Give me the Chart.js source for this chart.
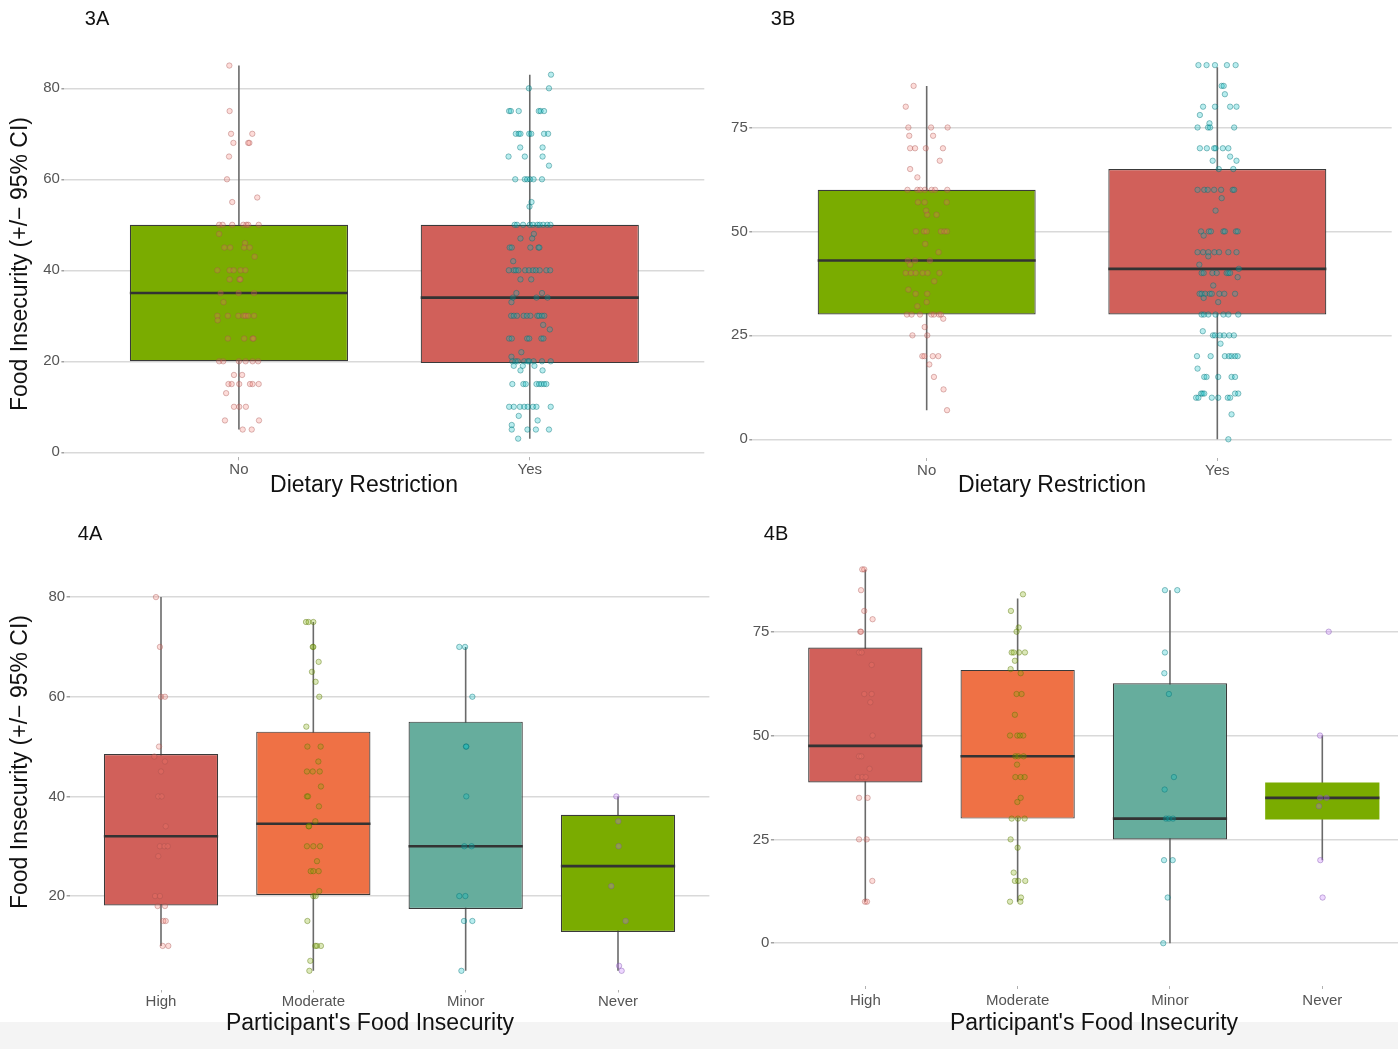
<!DOCTYPE html>
<html>
<head>
<meta charset="utf-8">
<title>Food insecurity box plots</title>
<script src="https://cdn.jsdelivr.net/npm/chart.js@4.4.1/dist/chart.umd.min.js"></script>
<style>
  html, body { margin: 0; padding: 0; background: #fff; overflow: hidden; }
  #fig { position: relative; width: 1398px; height: 1049px; overflow: hidden;
         font-family: "Liberation Sans", Arial, Helvetica, sans-serif; }
  #band { position: absolute; left: 0; top: 1022px; width: 1398px; height: 27px; background: #f4f4f4; }
  canvas { position: absolute; }
  .lbl { position: absolute; white-space: nowrap; color: #111; line-height: 1; }
  .panel { font-size: 20px; transform: translate(-50%, -50%); }
  .xt { font-size: 23px; transform: translate(-50%, -50%); }
  .yt { font-size: 23px; transform: translate(-50%, -50%) rotate(-90deg); }
</style>
</head>
<body>
<div id="fig">
  <div id="band"></div>
  <canvas id="c3A" width="708" height="500" style="left:0px;top:0px"></canvas>
  <canvas id="c3B" width="698" height="500" style="left:700px;top:0px"></canvas>
  <canvas id="c4A" width="714" height="512" style="left:0px;top:510px"></canvas>
  <canvas id="c4B" width="706" height="512" style="left:712px;top:510px"></canvas>

  <div class="lbl panel" style="left:97px;top:18px">3A</div>
  <div class="lbl panel" style="left:783px;top:18px">3B</div>
  <div class="lbl panel" style="left:90px;top:533px">4A</div>
  <div class="lbl panel" style="left:776px;top:533px">4B</div>

  <div class="lbl yt" style="left:19px;top:264px">Food Insecurity (+/− 95% CI)</div>
  <div class="lbl yt" style="left:19px;top:762px">Food Insecurity (+/− 95% CI)</div>

  <div class="lbl xt" style="left:364px;top:484px">Dietary Restriction</div>
  <div class="lbl xt" style="left:1052px;top:484px">Dietary Restriction</div>
  <div class="lbl xt" style="left:370px;top:1022px">Participant's Food Insecurity</div>
  <div class="lbl xt" style="left:1094px;top:1022px">Participant's Food Insecurity</div>
</div>

<script>
// ---------- categories and tick labels ----------
const CATS_DIET = ['No', 'Yes'];
const CATS_FI = ['High', 'Moderate', 'Minor', 'Never'];

const TICKS_3A = [0, 20, 40, 60, 80];
const TICKS_3B = [0, 25, 50, 75];
const TICKS_4A = [20, 40, 60, 80];
const TICKS_4B = [0, 25, 50, 75];

// ---------- box statistics (whisker low, Q1, median, Q3, whisker high) ----------
const LOW_3A = [5, 3];
const Q1_3A = [20, 19.6];
const MED_3A = [35, 34];
const Q3_3A = [50, 50];
const HIGH_3A = [85, 83];

const LOW_3B = [7, 0];
const Q1_3B = [30, 30];
const MED_3B = [43, 41];
const Q3_3B = [60, 65];
const HIGH_3B = [85, 89.5];

const LOW_4A = [10, 5, 5, 5];
const Q1_4A = [18.1, 20.2, 17.4, 12.8];
const MED_4A = [32, 34.5, 30, 26];
const Q3_4A = [48.5, 53, 55, 36.3];
const HIGH_4A = [80, 75, 70, 40];

const LOW_4B = [10, 10, 0, 20];
const Q1_4B = [38.7, 30, 25, 29.8];
const MED_4B = [47.5, 45, 30, 35];
const Q3_4B = [71.2, 65.8, 62.6, 38.7];
const HIGH_4B = [90, 83, 85, 50];

// ---------- individual responses: [value, horizontal jitter in category units] ----------
const PTS_3A_NO = [
  [85,-.033],[75,-.032],[70,-.027],[70,.046],[68,-.019],[68,.032],[68,.036],[65,-.034],[60,-.041],[56,.063],[55,-.023],
  [50,-.068],[50,-.056],[50,-.023],[50,.015],[50,.026],[50,.032],[50,.068],[48,-.068],[46,.021],
  [45,-.05],[45,-.03],[45,.018],[45,.037],[43,.054],
  [40,-.074],[40,-.032],[40,-.018],[40,.006],[40,.022],[38,-.032],[38,.002],[38,.005],
  [35,-.063],[35,-.001],[35,.052],[33,-.053],
  [30,-.074],[30,-.038],[30,-.002],[30,.016],[30,.023],[30,.032],[30,.052],[29,-.073],
  [25,-.038],[25,.018],[25,.047],[25,.05],
  [20,-.068],[20,-.054],[20,0],[20,.023],[20,.047],[20,.066],
  [17,-.017],[17,.011],[15,-.036],[15,-.025],[15,.001],[15,.038],[15,.047],[15,.068],[13,-.044],
  [10,-.017],[10,.001],[10,.024],[7,-.048],[7,.069],[5,.013],[5,.044]
];
const PTS_3A_YES = [
  [83,.073],[80,-.003],[80,.066],
  [75,-.071],[75,-.065],[75,-.038],[75,.031],[75,.037],[75,.049],
  [70,-.048],[70,-.038],[70,-.032],[70,-.002],[70,.005],[70,.049],[70,.063],
  [67,-.033],[67,.044],[65,-.073],[65,-.017],[65,.044],[63,.066],
  [60,-.05],[60,-.017],[60,-.009],[60,.001],[60,.013],[60,.042],[55,.006],[54,-.001],
  [50,-.052],[50,-.044],[50,-.023],[50,0],[50,.011],[50,.026],[50,.034],[50,.046],[50,.06],[50,.071],
  [48,.014],[47,-.032],[47,.008],[45,-.069],[45,-.062],[45,.002],[45,.03],[45,.033],[42,-.057],
  [40,-.072],[40,-.055],[40,-.048],[40,-.039],[40,-.016],[40,-.003],[40,.011],[40,.021],[40,.034],[40,.057],[40,.07],
  [38,-.032],[38,.005],[35,-.046],[35,.042],[34,-.058],[34,.023],[34,.061],[33,-.063],
  [30,-.064],[30,-.055],[30,-.044],[30,-.021],[30,-.01],[30,.002],[30,.026],[30,.032],[30,.042],[30,.05],
  [28,.046],[27,.069],[25,-.071],[25,-.062],[25,-.009],[25,-.002],[25,.04],[25,.047],[22,-.029],[21,-.063],
  [20,-.06],[20,-.049],[20,-.041],[20,-.019],[20,-.007],[20,-.002],[20,.013],[20,.042],[20,.072],
  [19,-.055],[19,-.024],[19,.016],[18,-.032],[18,.044],
  [15,-.06],[15,-.022],[15,-.014],[15,.023],[15,.032],[15,.04],[15,.049],[15,.057],
  [10,-.071],[10,-.055],[10,-.034],[10,-.019],[10,-.007],[10,.011],[10,.023],[10,.072],
  [8,-.038],[7,.027],[6,-.062],[5,-.062],[5,-.008],[5,.021],[5,.066],[3,-.04]
];
const PTS_3B_NO = [
  [85,-.045],[80,-.072],[75,-.063],[75,.015],[75,.072],[73,-.06],[73,.022],
  [70,-.057],[70,-.04],[70,-.003],[70,.056],[67,.045],[65,-.057],[63,-.032],
  [60,-.066],[60,-.032],[60,-.022],[60,-.006],[60,.017],[60,.029],[60,.071],
  [57,-.03],[57,-.007],[57,.069],[55,-.002],[54,.002],[54,.034],
  [50,-.037],[50,-.009],[50,0],[50,.049],[50,.061],[50,.07],[47,-.005],[45,.041],
  [43,-.065],[43,-.04],[43,.011],[42,-.057],
  [40,-.072],[40,-.054],[40,-.038],[40,-.014],[40,.003],[40,.044],[38,.026],[36,-.063],
  [35,-.038],[35,.002],[33,0],[32,-.032],
  [30,-.068],[30,-.052],[30,-.023],[30,.016],[30,.025],[30,.042],[30,.049],[29,.057],[27,-.007],
  [25,-.049],[25,.002],[20,-.015],[20,-.008],[20,.021],[20,.04],[18,.009],[15,.025],[12,.058],[7,.07]
];
const PTS_3B_YES = [
  [90,-.065],[90,-.037],[90,-.008],[90,.033],[90,.063],[85,.015],[85,.022],[83,.026],
  [80,-.049],[80,-.008],[80,.044],[80,.066],[78,-.06],[76,-.027],
  [75,-.068],[75,-.032],[75,-.025],[75,.058],
  [70,-.06],[70,-.036],[70,-.011],[70,-.006],[70,.019],[70,.038],[68,.044],[67,-.016],[67,.066],[65,.005],[65,.055],
  [60,-.068],[60,-.045],[60,-.033],[60,-.011],[60,.013],[60,.053],[60,.058],[58,.015],[55,-.006],
  [50,-.056],[50,-.029],[50,-.022],[50,.021],[50,.026],[50,.064],[50,.07],[49,-.047],
  [45,-.068],[45,-.049],[45,-.031],[45,-.01],[45,.006],[45,.038],[45,.066],[44,-.031],[42,-.062],[41,.074],
  [40,-.054],[40,-.047],[40,-.017],[40,-.002],[40,.032],[40,.038],[40,.044],[39,.07],[37,-.014],
  [35,-.061],[35,-.054],[35,-.042],[35,-.026],[35,-.019],[35,.007],[35,.024],[35,.061],[34,-.047],[33,.003],
  [30,-.054],[30,-.046],[30,-.031],[30,-.006],[30,.021],[30,.038],[30,.072],[26,-.05],
  [25,-.015],[25,-.008],[25,.009],[25,.023],[25,.041],[25,.057],[23,.011],
  [20,-.07],[20,-.023],[20,.026],[20,.04],[20,.049],[20,.061],[20,.07],[17,-.068],
  [15,-.045],[15,-.037],[15,.003],[15,.049],[15,.061],
  [11,-.056],[11,-.051],[11,-.045],[11,.061],[11,.072],
  [10,-.073],[10,-.065],[10,-.019],[10,.003],[10,.036],[10,.044],[6,.049],[0,.038]
];
const PTS_4A_HIGH = [
  [80,-.033],[70,-.007],[60,0],[60,.026],[50,-.013],[48,-.044],[47,.026],[45,0],[40,-.018],[40,.004],
  [34,.031],[30,-.007],[30,.022],[30,.044],[28,-.018],[20,-.039],[20,-.007],[18,-.022],[18,.026],
  [15,.015],[15,.031],[10,.011],[10,.048]
];
const PTS_4A_MOD = [
  [75,-.048],[75,-.031],[75,0],[70,-.004],[70,0],[67,.035],[65,-.009],[63,.015],[60,.039],[54,-.046],
  [50,-.039],[50,.048],[47,.033],[45,-.042],[45,-.004],[45,.042],[42,.05],[40,-.042],[40,-.035],[38,.037],
  [35,.013],[34,-.031],[34,-.028],[30,-.042],[30,0],[30,.044],[27,.024],[25,-.017],[25,0],[25,.035],
  [21,.039],[20,0],[20,.015],[15,-.039],[10,.013],[10,.024],[10,.05],[7,-.02],[5,-.026]
];
const PTS_4A_MINOR = [
  [70,-.042],[70,-.004],[60,.044],[50,.002],[50,.004],[40,.004],[30,-.009],[30,.039],
  [20,-.042],[20,-.002],[15,-.011],[15,.044],[5,-.028]
];
const PTS_4A_NEVER = [
  [40,-.011],[35,.002],[30,.004],[22,-.044],[15,.05],[6,.007],[5,.024]
];
const PTS_4B_HIGH = [
  [90,-.02],[90,-.007],[85,-.028],[80,-.007],[78,.048],[75,-.033],[75,-.028],[70,-.041],[70,-.024],
  [67,.042],[60,-.007],[60,.042],[58,.033],[50,.048],[45,-.041],[45,-.026],[42,.028],
  [40,-.05],[40,-.02],[40,.002],[35,-.041],[35,.015],[25,-.041],[25,.009],[15,.046],[10,-.002],[10,.011]
];
const PTS_4B_MOD = [
  [84,.035],[80,-.044],[76,.007],[75,-.007],[70,-.039],[70,-.026],[70,.009],[70,.048],[68,-.018],
  [66,-.046],[65,.02],[60,-.007],[60,.026],[55,-.018],[50,-.05],[50,-.002],[50,.015],[50,.037],
  [45,-.015],[45,.004],[45,.039],[43,-.004],[40,-.015],[40,.02],[40,.046],[35,.02],[34,-.002],
  [30,-.039],[30,.002],[30,.046],[25,-.046],[23,0],[17,-.026],[15,-.018],[15,.004],[15,.05],
  [11,.022],[10,-.05],[10,.018]
];
const PTS_4B_MINOR = [
  [85,-.033],[85,.048],[70,-.033],[65,-.037],[60,-.007],[40,.026],[37,-.035],
  [30,-.026],[30,-.007],[30,.02],[20,-.039],[20,.018],[11,-.015],[0,-.044]
];
const PTS_4B_NEVER = [
  [75,.042],[50,-.015],[35,-.015],[35,.028],[33,-.022],[20,-.013],[11,.002]
];

// ---------- colours ----------
const BOX_FILL_DIET = ['#7AAC00', '#D1605A'];
const BOX_FILL_FI = ['#D1605A', '#EF7145', '#66AD9D', '#7AAC00'];
const PT_FILL_DIET = ['rgba(248,118,109,0.26)', 'rgba(0,191,196,0.28)'];
const PT_LINE_DIET = ['rgba(160,80,75,0.38)', 'rgba(0,110,115,0.42)'];
const PT_FILL_FI = ['rgba(248,118,109,0.26)', 'rgba(124,174,0,0.28)', 'rgba(0,191,196,0.28)', 'rgba(199,124,255,0.3)'];
const PT_LINE_FI = ['rgba(160,80,75,0.38)', 'rgba(85,115,0,0.42)', 'rgba(0,110,115,0.42)', 'rgba(125,80,170,0.42)'];

const BOX_W = 0.75;        // box width as a share of the category spacing
const Y_AXIS_W = 40;       // reserved width of the value axis (labels + ticks)
const X_AXIS_H = 30;       // reserved height of the category axis

Chart.defaults.font.family = '"Liberation Sans", Arial, Helvetica, sans-serif';

function buildPanel(canvasId, p) {
  const n = p.cats.length;
  const datasets = [];

  // jittered observations (drawn on top)
  p.points.forEach((grp, i) => {
    datasets.push({
      type: 'scatter', order: 0,
      data: grp.map(([v, dx]) => ({ x: i + 1 + dx, y: v })),
      pointRadius: 2.7, pointHoverRadius: 2.7, pointBorderWidth: 1,
      pointBackgroundColor: p.ptFill[i], pointBorderColor: p.ptLine[i]
    });
  });

  // medians
  p.med.forEach((m, i) => {
    datasets.push({
      type: 'line', order: 1, showLine: true,
      data: [{ x: i + 1 - BOX_W / 2, y: m }, { x: i + 1 + BOX_W / 2, y: m }],
      borderColor: '#333333', borderWidth: 2.6, pointRadius: 0
    });
  });

  // boxes from Q1 to Q3
  datasets.push({
    type: 'bar', order: 2,
    data: p.q1.map((q, i) => ({ x: i + 1, y: [q, p.q3[i]] })),
    backgroundColor: p.fill,
    borderColor: '#3a3a3a',
    borderWidth: p.boxBorder,
    borderSkipped: false,
    barPercentage: BOX_W, categoryPercentage: 1
  });

  // whiskers
  p.low.forEach((lo, i) => {
    datasets.push({
      type: 'line', order: 3, showLine: true,
      data: [{ x: i + 1, y: lo }, { x: i + 1, y: p.high[i] }],
      borderColor: '#6a6a6a', borderWidth: 1.6, pointRadius: 0
    });
  });

  const cats = p.cats, yTicks = p.yTicks;
  return new Chart(document.getElementById(canvasId), {
    type: 'scatter',
    data: { datasets },
    options: {
      responsive: false, animation: false, devicePixelRatio: 1,
      events: [],
      layout: { padding: p.pad },
      plugins: { legend: { display: false }, tooltip: { enabled: false } },
      scales: {
        x: {
          type: 'linear', min: 0.4, max: n + 0.6, offset: false,
          afterBuildTicks: s => { s.ticks = cats.map((c, i) => ({ value: i + 1 })); },
          afterFit: s => { s.height = X_AXIS_H; },
          grid: { display: true, drawOnChartArea: false, drawTicks: true, tickLength: 3, tickColor: '#b0b0b0', offset: false },
          border: { display: false },
          ticks: {
            callback: v => cats[Math.round(v) - 1],
            color: '#555555', font: { size: 15 }, padding: p.xTickPad,
            maxRotation: 0, autoSkip: false
          }
        },
        y: {
          type: 'linear', min: p.yMin, max: p.yMax,
          afterBuildTicks: s => { s.ticks = yTicks.map(v => ({ value: v })); },
          afterFit: s => { s.width = Y_AXIS_W; },
          grid: { color: '#d9d9d9', lineWidth: 1.5, drawTicks: true, tickLength: 3, tickColor: '#a0a0a0' },
          border: { display: false },
          ticks: { color: '#555555', font: { size: 15 }, padding: 1.5 }
        }
      }
    }
  });
}

buildPanel('c3A', {
  cats: CATS_DIET, yTicks: TICKS_3A, yMin: -1.1, yMax: 89.1,
  low: LOW_3A, q1: Q1_3A, med: MED_3A, q3: Q3_3A, high: HIGH_3A,
  points: [PTS_3A_NO, PTS_3A_YES],
  fill: BOX_FILL_DIET, ptFill: PT_FILL_DIET, ptLine: PT_LINE_DIET,
  boxBorder: [1.2, 1.2], xTickPad: 1,
  pad: { left: 24.4, right: 3.4, top: 46.9, bottom: 12.7 }
});

buildPanel('c3B', {
  cats: CATS_DIET, yTicks: TICKS_3B, yMin: -4.5, yMax: 94.5,
  low: LOW_3B, q1: Q1_3B, med: MED_3B, q3: Q3_3B, high: HIGH_3B,
  points: [PTS_3B_NO, PTS_3B_YES],
  fill: BOX_FILL_DIET, ptFill: PT_FILL_DIET, ptLine: PT_LINE_DIET,
  boxBorder: [1.2, 1.2], xTickPad: 1,
  pad: { left: 12.3, right: 6.3, top: 46.4, bottom: 12 }
});

buildPanel('c4A', {
  cats: CATS_FI, yTicks: TICKS_4A, yMin: 1.25, yMax: 83.75,
  low: LOW_4A, q1: Q1_4A, med: MED_4A, q3: Q3_4A, high: HIGH_4A,
  points: [PTS_4A_HIGH, PTS_4A_MOD, PTS_4A_MINOR, PTS_4A_NEVER],
  fill: BOX_FILL_FI, ptFill: PT_FILL_FI, ptLine: PT_LINE_FI,
  boxBorder: [1.2, 1.2, 1.2, 1.2], xTickPad: 0,
  pad: { left: 29.6, right: 4.6, top: 68.4, bottom: 2.5 }
});

buildPanel('c4B', {
  cats: CATS_FI, yTicks: TICKS_4B, yMin: -10.3, yMax: 94.5,
  low: LOW_4B, q1: Q1_4B, med: MED_4B, q3: Q3_4B, high: HIGH_4B,
  points: [PTS_4B_HIGH, PTS_4B_MOD, PTS_4B_MINOR, PTS_4B_NEVER],
  fill: BOX_FILL_FI, ptFill: PT_FILL_FI, ptLine: PT_LINE_FI,
  boxBorder: [1.2, 1.2, 1.2, 0], xTickPad: 3,
  pad: { left: 21.9, right: 4.3, top: 40.7, bottom: 6 }
});
</script>
</body>
</html>
